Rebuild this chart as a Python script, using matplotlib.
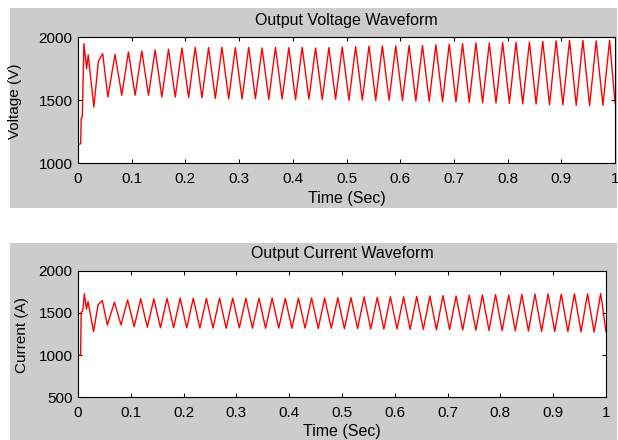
import numpy as np
import matplotlib
matplotlib.use("Agg")
import matplotlib.pyplot as plt
from matplotlib.patches import Rectangle

plt.rcParams["font.family"] = ["Liberation Sans", "DejaVu Sans"]

# start-up transient, read point by point (time in s)
v_start_t = [0, 0.005, 0.006, 0.008, 0.011, 0.016, 0.019, 0.0295, 0.038, 0.046, 0.0556]
v_start = [1150, 1155, 1360, 1370, 1950, 1750, 1860, 1447, 1810, 1870, 1526]
i_start_t = [0, 0.005, 0.006, 0.009, 0.012, 0.016, 0.019, 0.0295, 0.038, 0.046, 0.0556]
i_start = [1000, 1000, 1510, 1520, 1726, 1544, 1635, 1278, 1595, 1647, 1357]

# steady ripple: times of the crests and the troughs that follow them
peak_t = [0.069, 0.0939, 0.1188, 0.1437, 0.1686, 0.1935, 0.2183, 0.2432,
          0.2681, 0.2930, 0.3179, 0.3428, 0.3677, 0.3926, 0.4175, 0.4424,
          0.4672, 0.4921, 0.5170, 0.5419, 0.5668, 0.5917, 0.6166, 0.6415,
          0.6664, 0.6913, 0.7161, 0.7410, 0.7659, 0.7908, 0.8157, 0.8406,
          0.8655, 0.8904, 0.9153, 0.9402, 0.9650, 0.9899]
trough_t = [0.0815, 0.1064, 0.1313, 0.1562, 0.1811, 0.2060, 0.2308, 0.2557,
            0.2806, 0.3055, 0.3304, 0.3553, 0.3802, 0.4051, 0.4300, 0.4549,
            0.4797, 0.5046, 0.5295, 0.5544, 0.5793, 0.6042, 0.6291, 0.6540,
            0.6789, 0.7038, 0.7286, 0.7535, 0.7784, 0.8033, 0.8282, 0.8531,
            0.8780, 0.9029, 0.9278, 0.9527, 0.9775]
t_end = 1.0

v_peaks = [1865, 1884, 1892, 1900, 1905, 1915, 1920, 1918, 1920, 1918,
           1920, 1915, 1920, 1918, 1920, 1915, 1918, 1922, 1925, 1930,
           1932, 1932, 1935, 1935, 1940, 1945, 1950, 1955, 1955, 1958,
           1960, 1962, 1968, 1972, 1975, 1975, 1972, 1976]
v_troughs = [1540, 1540, 1540, 1526, 1525, 1522, 1520, 1515, 1512, 1510,
             1512, 1508, 1510, 1505, 1510, 1505, 1508, 1500, 1502, 1500,
             1500, 1498, 1495, 1492, 1490, 1488, 1485, 1480, 1478, 1475,
             1472, 1470, 1465, 1465, 1460, 1458, 1460]
v_end = 1480

i_peaks = [1627, 1655, 1667, 1667, 1672, 1675, 1675, 1672, 1675, 1675,
           1672, 1675, 1675, 1672, 1675, 1678, 1675, 1680, 1680, 1690,
           1685, 1692, 1690, 1695, 1700, 1705, 1700, 1710, 1712, 1718,
           1712, 1720, 1722, 1725, 1722, 1728, 1726, 1730]
i_troughs = [1357, 1337, 1330, 1325, 1325, 1322, 1320, 1320, 1318, 1322,
             1320, 1318, 1320, 1318, 1320, 1315, 1318, 1312, 1315, 1310,
             1308, 1310, 1305, 1305, 1300, 1302, 1298, 1295, 1292, 1290,
             1288, 1285, 1282, 1280, 1278, 1275, 1272]
i_end = 1278

x_ticks = [0, 0.1, 0.2, 0.3, 0.4, 0.5, 0.6, 0.7, 0.8, 0.9, 1]
x_tick_labels = ["0", "0.1", "0.2", "0.3", "0.4", "0.5", "0.6", "0.7", "0.8", "0.9", "1"]


def waveform(start_t, start_y, peaks, troughs, end_y):
    # crest, trough, crest, ... then the last crest and the end sample
    t = np.concatenate([start_t,
                        np.column_stack([peak_t[:-1], trough_t]).ravel(),
                        [peak_t[-1], t_end]])
    y = np.concatenate([start_y,
                        np.column_stack([peaks[:-1], troughs]).ravel(),
                        [peaks[-1], end_y]])
    return t, y


W, H = 618, 440
fig = plt.figure(figsize=(W / 100, H / 100), dpi=100, facecolor="white")


def px_box(x0, y0, x1, y1):
    return [x0 / W, 1 - y1 / H, (x1 - x0) / W, (y1 - y0) / H]


for box in [(10, 8, 617, 208), (10, 243, 617, 440)]:
    x, y, w, h = px_box(*box)
    fig.add_artist(Rectangle((x, y), w, h, transform=fig.transFigure,
                             facecolor="#cccccc", edgecolor="none", zorder=0))

ax1 = fig.add_axes(px_box(78, 37.3, 615, 163.3))
ax2 = fig.add_axes(px_box(78, 270.7, 606, 397.3))

t_v, v = waveform(v_start_t, v_start, v_peaks, v_troughs, v_end)
t_i, i = waveform(i_start_t, i_start, i_peaks, i_troughs, i_end)

ax1.plot(t_v, v, color="red", linewidth=1.0)
ax2.plot(t_i, i, color="red", linewidth=1.0)

ax1.set_ylim(1000, 2000)
ax1.set_yticks([1000, 1500, 2000])
ax2.set_ylim(500, 2000)
ax2.set_yticks([500, 1000, 1500, 2000])

for ax, title, ylab, ylab_x, xlab_y in [
        (ax1, "Output Voltage Waveform", "Voltage (V)", -0.104, -0.216),
        (ax2, "Output Current Waveform", "Current (A)", -0.093, -0.211)]:
    ax.set_facecolor("white")
    ax.set_xlim(0, 1)
    ax.set_xticks(x_ticks)
    ax.set_xticklabels(x_tick_labels)
    ax.tick_params(direction="in", length=3, width=0.75, top=True, right=True,
                   labelsize=11, colors="black")
    ax.tick_params(axis="x", pad=6)
    ax.tick_params(axis="y", pad=4)
    for s in ax.spines.values():
        s.set_linewidth(0.8)
    ax.set_title(title, fontsize=11.5, pad=9)
    ax.set_ylabel(ylab, fontsize=11)
    ax.yaxis.set_label_coords(ylab_x, 0.49)
    ax.set_xlabel("Time (Sec)", fontsize=11.5)
    ax.xaxis.set_label_coords(0.5, xlab_y)

fig.savefig("out.png", dpi=100)
